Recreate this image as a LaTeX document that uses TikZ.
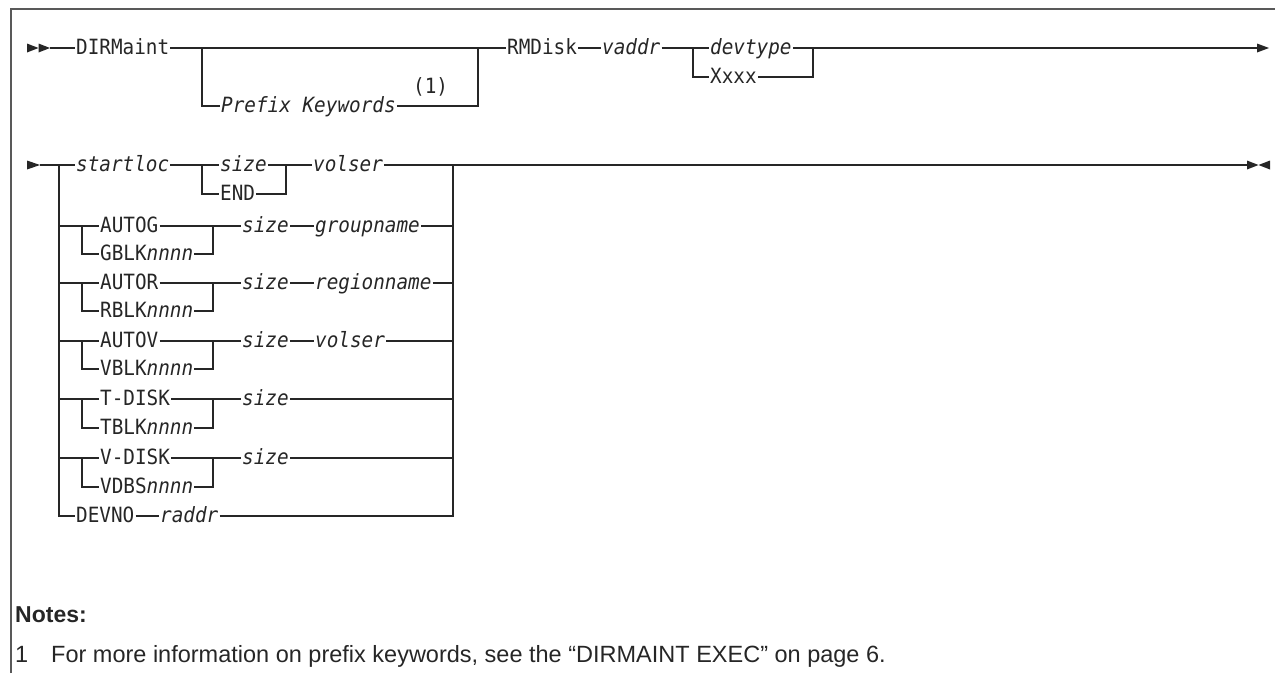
\documentclass[tikz,border=0pt]{standalone}
\usepackage{fontspec}
\setmonofont[FakeStretch=0.92]{DejaVu Sans Mono}
\newfontfamily\notesfont{Liberation Sans}
\begin{document}
\begin{tikzpicture}[x=1pt,y=-1pt,
  syn/.style={line width=1.3pt, draw=black!85},
  kw/.style={font=\ttfamily\fontsize{21}{22}\selectfont, inner xsep=1pt, inner ysep=0pt,
             text height=15pt, text depth=3pt, anchor=west, text=black!85},
  var/.style={kw, font=\ttfamily\itshape\fontsize{21}{22}\selectfont},
  tip/.style={fill=black!85},
  frame/.style={line width=1.5pt, draw=black!65},
  notes/.style={font=\notesfont\fontsize{23.5}{25}\selectfont, anchor=base west, inner sep=0pt, text=black!85},
  notesb/.style={notes, font=\notesfont\bfseries\fontsize{23}{25}\selectfont}
]
\useasboundingbox (0,0) rectangle (1275,673);
\draw[frame] (11,673) -- (11,9) -- (1275,9);

% ---------- line 1 ----------
\fill[tip] (27,43.5) -- (38.5,48) -- (27,52.5) -- cycle;
\fill[tip] (38.5,43.5) -- (50,48) -- (38.5,52.5) -- cycle;
\coordinate (s1) at (50,48);
\node[kw] (dirm) at (75,48) {DIRMaint};
\coordinate (p1) at (202,48);
\coordinate (p2) at (478,48);
\node[var] (pk) at (220,106) {Prefix Keywords};
\node[kw] (n1) at (412,87) {(1)};
\node[kw] (rmd) at (506,48) {RMDisk};
\node[var] (vaddr) at (601,48) {vaddr};
\coordinate (c1) at (693,48);
\node[var] (devt) at (709,48) {devtype};
\node[kw] (xxxx) at (709,77) {Xxxx};
\coordinate (c2) at (813,48);
\coordinate (e1) at (1257,48);
\fill[tip] (1257,43.5) -- (1269,48) -- (1257,52.5) -- cycle;

\draw[syn] (s1) -- (dirm.west);
\draw[syn] (dirm.east) -- (rmd.west);
\draw[syn] (p1) |- (pk.west);
\draw[syn] (pk.east) -| (p2);
\draw[syn] (rmd.east) -- (vaddr.west);
\draw[syn] (vaddr.east) -- (devt.west);
\draw[syn] (c1) |- (xxxx.west);
\draw[syn] (xxxx.east) -| (c2);
\draw[syn] (devt.east) -- (e1);

% ---------- line 2 ----------
\fill[tip] (27,160.5) -- (40,165) -- (27,169.5) -- cycle;
\coordinate (s2) at (40,165);
\coordinate (L) at (59,165);
\coordinate (R) at (453,165);
\node[var] (stl) at (75,165) {startloc};
\coordinate (sc1) at (202,165);
\node[var] (sz0) at (219,165) {size};
\node[kw] (endk) at (219,194) {END};
\coordinate (sc2) at (286,165);
\node[var] (vol0) at (312,165) {volser};
\coordinate (e2) at (1247,165);
\fill[tip] (1247,160.5) -- (1258.5,165) -- (1247,169.5) -- cycle;
\fill[tip] (1270,160.5) -- (1258.5,165) -- (1270,169.5) -- cycle;

\draw[syn] (s2) -- (stl.west);
\draw[syn] (stl.east) -- (sz0.west);
\draw[syn] (sc1) |- (endk.west);
\draw[syn] (endk.east) -| (sc2);
\draw[syn] (sz0.east) -- (vol0.west);
\draw[syn] (vol0.east) -- (e2);

% AUTOG
\node[kw] (autog) at (99,226) {AUTOG};
\node[kw] (gblk) at (99,254) {GBLK\textit{nnnn}};
\coordinate (gb) at (82,226);
\coordinate (gc) at (213,226);
\node[var] (gsz) at (241,226) {size};
\node[var] (grp) at (314,226) {groupname};
\draw[syn] (L |- autog.west) -- (autog.west);
\draw[syn] (gb) |- (gblk.west);
\draw[syn] (gblk.east) -| (gc);
\draw[syn] (autog.east) -- (gsz.west);
\draw[syn] (gsz.east) -- (grp.west);
\draw[syn] (grp.east) -- (R |- grp.east);

% AUTOR
\node[kw] (autor) at (99,283) {AUTOR};
\node[kw] (rblk) at (99,311) {RBLK\textit{nnnn}};
\coordinate (rb) at (82,283);
\coordinate (rc) at (213,283);
\node[var] (rsz) at (241,283) {size};
\node[var] (reg) at (314,283) {regionname};
\draw[syn] (L |- autor.west) -- (autor.west);
\draw[syn] (rb) |- (rblk.west);
\draw[syn] (rblk.east) -| (rc);
\draw[syn] (autor.east) -- (rsz.west);
\draw[syn] (rsz.east) -- (reg.west);
\draw[syn] (reg.east) -- (R |- reg.east);

% AUTOV
\node[kw] (autov) at (99,341) {AUTOV};
\node[kw] (vblk) at (99,369) {VBLK\textit{nnnn}};
\coordinate (vb) at (82,341);
\coordinate (vc) at (213,341);
\node[var] (vsz) at (241,341) {size};
\node[var] (vol1) at (314,341) {volser};
\draw[syn] (L |- autov.west) -- (autov.west);
\draw[syn] (vb) |- (vblk.west);
\draw[syn] (vblk.east) -| (vc);
\draw[syn] (autov.east) -- (vsz.west);
\draw[syn] (vsz.east) -- (vol1.west);
\draw[syn] (vol1.east) -- (R |- vol1.east);

% T-DISK
\node[kw] (tdisk) at (99,399) {T-DISK};
\node[kw] (tblk) at (99,428) {TBLK\textit{nnnn}};
\coordinate (tb) at (82,399);
\coordinate (tc) at (213,399);
\node[var] (tsz) at (241,399) {size};
\draw[syn] (L |- tdisk.west) -- (tdisk.west);
\draw[syn] (tb) |- (tblk.west);
\draw[syn] (tblk.east) -| (tc);
\draw[syn] (tdisk.east) -- (tsz.west);
\draw[syn] (tsz.east) -- (R |- tsz.east);

% V-DISK
\node[kw] (vdisk) at (99,458) {V-DISK};
\node[kw] (vdbs) at (99,487) {VDBS\textit{nnnn}};
\coordinate (db) at (82,458);
\coordinate (dc) at (213,458);
\node[var] (dsz) at (241,458) {size};
\draw[syn] (L |- vdisk.west) -- (vdisk.west);
\draw[syn] (db) |- (vdbs.west);
\draw[syn] (vdbs.east) -| (dc);
\draw[syn] (vdisk.east) -- (dsz.west);
\draw[syn] (dsz.east) -- (R |- dsz.east);

% DEVNO
\node[kw] (devno) at (75,516) {DEVNO};
\node[var] (raddr) at (159,516) {raddr};
\draw[syn] (L) |- (devno.west);
\draw[syn] (devno.east) -- (raddr.west);
\draw[syn] (raddr.east) -| (R);

% ---------- notes ----------
\node[notesb] (nt) at (15,622) {Notes:};
\node[notes] (one) at (15,662) {1};
\node[notes] (ntext) at (51,662) {For more information on prefix keywords, see the “DIRMAINT EXEC” on page 6.};
\end{tikzpicture}
\end{document}
